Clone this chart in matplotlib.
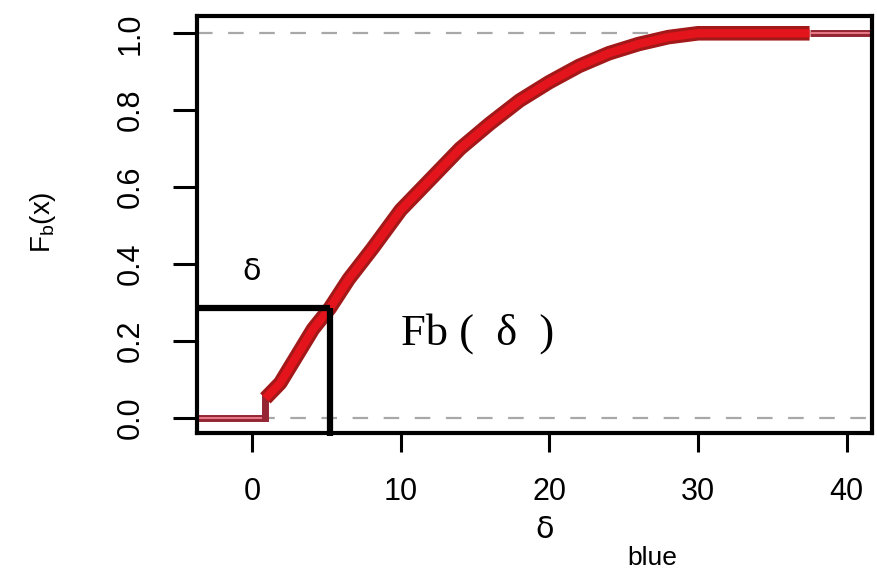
import matplotlib.pyplot as plt
"""
经验分布函数 Fb(x) 以及 δ 处的取值示意
"""

# 经验分布曲线上的点 (x, Fb(x))
cdf_x = [0.9, 1.9, 3.0, 4.1, 5.24, 6.5, 8.1, 10.0, 12.0, 14.0, 16.0, 18.0,
         20.0, 22.0, 24.0, 26.0, 28.0, 30.0, 37.5]
cdf_y = [0.05, 0.09, 0.16, 0.23, 0.285, 0.36, 0.44, 0.54, 0.62, 0.70, 0.765,
         0.825, 0.873, 0.915, 0.948, 0.972, 0.99, 1.0, 1.0]

# δ 及其对应的 Fb(δ)
delta_x = 5.24
delta_y = 0.285

# 坐标轴刻度
x_ticks = [0, 10, 20, 30, 40]
x_tick_labels = ['0', '10', '20', '30', '40']
y_ticks = [0.0, 0.2, 0.4, 0.6, 0.8, 1.0]
y_tick_labels = ['0.0', '0.2', '0.4', '0.6', '0.8', '1.0']

x_min, x_max = -3.7, 41.7
y_min, y_max = -0.04, 1.045


def draw_ecdf():
    plt.rcParams['font.family'] = ['Liberation Sans', 'DejaVu Sans']
    fig = plt.figure(figsize=(8.77, 5.77), dpi=100)
    ax = fig.add_axes([0.2246, 0.2496, 0.7697, 0.7227])
    ax.set_xlim(x_min, x_max)
    ax.set_ylim(y_min, y_max)

    # 0 和 1 处的灰色虚线
    for h in (0.0, 1.0):
        ax.axhline(h, color='#a8a8a8', lw=1.6, dashes=(7, 7), zorder=1)

    # 两端的细线
    for xs, ys in (([x_min, cdf_x[0]], [0.0, 0.0]),
                   ([cdf_x[-1], x_max], [1.0, 1.0])):
        ax.plot(xs, ys, color='#962634', lw=5, solid_capstyle='butt', zorder=2)
        ax.plot(xs, ys, color='#ee8090', lw=1.3, solid_capstyle='butt', zorder=2)
    ax.plot([cdf_x[0], cdf_x[0]], [0.0, cdf_y[0]], color='#962634', lw=5, zorder=2)

    # 分布曲线（粗红线）
    ax.plot(cdf_x, cdf_y, color='#a31818', lw=10.5, solid_capstyle='butt', zorder=3)
    ax.plot(cdf_x, cdf_y, color='#e3141c', lw=6, solid_capstyle='butt', zorder=4)

    # δ 处的黑色辅助线
    ax.plot([x_min, delta_x], [delta_y, delta_y], color='black', lw=4.5,
            solid_capstyle='butt', zorder=5, clip_on=False)
    ax.plot([delta_x, delta_x], [delta_y, -0.047], color='black', lw=4.5,
            solid_capstyle='butt', zorder=5, clip_on=False)

    ax.text(0.0, 0.38, 'δ', fontsize=22, family=['DejaVu Sans'],
            ha='center', va='center')
    ax.text(10.0, 0.218, 'Fb (  δ  )', fontsize=32,
            family=['Liberation Serif', 'DejaVu Serif'], ha='left', va='center')

    # 坐标轴样式
    for sp in ax.spines.values():
        sp.set_linewidth(3)
    ax.set_xticks(x_ticks)
    ax.set_xticklabels(x_tick_labels, fontsize=22)
    ax.set_yticks(y_ticks)
    ax.set_yticklabels(y_tick_labels, fontsize=22, rotation=90, va='center')
    ax.tick_params(axis='x', length=14, width=2.2, pad=18)
    ax.tick_params(axis='y', length=17, width=2.2, pad=20)

    # 轴标题
    fig.text(545 / 877, 1 - 530 / 577, 'δ', fontsize=22, family=['DejaVu Sans'],
             ha='center', va='center')
    fig.text(652 / 877, 1 - 558 / 577, 'blue', fontsize=19, ha='center', va='center')
    fig.text(43 / 877, 1 - 222 / 577, r'$\mathregular{F_b(x)}$', fontsize=20,
             rotation=90, ha='center', va='center')

    fig.savefig('out.png', dpi=100)


if __name__ == "__main__":
    draw_ecdf()
